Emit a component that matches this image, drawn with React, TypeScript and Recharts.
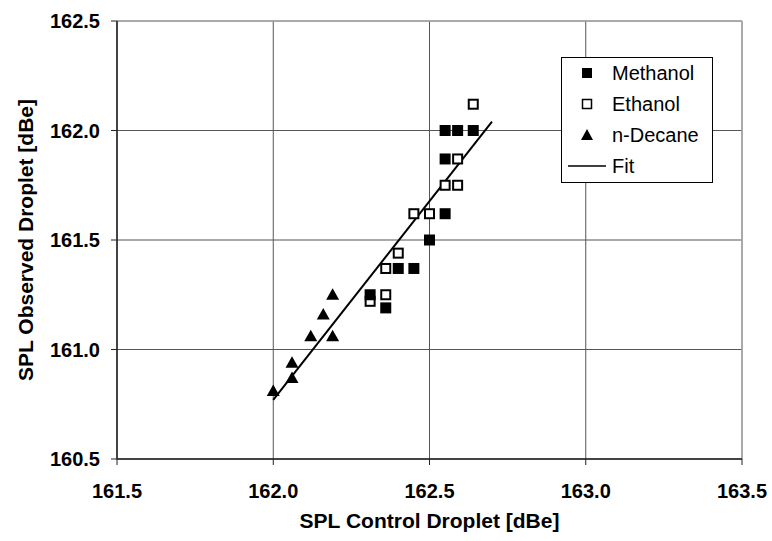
import React from 'react';
import {
  ScatterChart,
  Scatter,
  XAxis,
  YAxis,
  CartesianGrid,
  ReferenceLine,
  Legend,
} from 'recharts';

const xTicks = [161.5, 162.0, 162.5, 163.0, 163.5];
const yTicks = [160.5, 161.0, 161.5, 162.0, 162.5];

const methanolX = [162.31, 162.36, 162.40, 162.45, 162.50, 162.55, 162.55, 162.55, 162.59, 162.64];
const methanolY = [161.25, 161.19, 161.37, 161.37, 161.50, 161.62, 161.87, 162.00, 162.00, 162.00];

const ethanolX = [162.31, 162.36, 162.36, 162.40, 162.45, 162.50, 162.55, 162.59, 162.59, 162.64];
const ethanolY = [161.22, 161.25, 161.37, 161.44, 161.62, 161.62, 161.75, 161.75, 161.87, 162.12];

const decaneX = [162.00, 162.06, 162.06, 162.12, 162.19, 162.16, 162.19];
const decaneY = [160.81, 160.87, 160.94, 161.06, 161.06, 161.16, 161.25];

const fitX = [162.0, 162.7];
const fitY = [160.77, 162.04];

const seriesNames = ['Methanol', 'Ethanol', 'n-Decane', 'Fit'];

const zip = (xs: number[], ys: number[]) => xs.map((x, i) => ({ x, y: ys[i] }));

const methanolData = zip(methanolX, methanolY);
const ethanolData = zip(ethanolX, ethanolY);
const decaneData = zip(decaneX, decaneY);
const fitData = zip(fitX, fitY);

const FONT = '"Liberation Sans", Arial, Helvetica, sans-serif';

const FilledSquare = (p: any) => (
  <rect x={p.cx - 5.5} y={p.cy - 5.5} width={11} height={11} fill="#000" />
);
const OpenSquare = (p: any) => (
  <rect x={p.cx - 4.5} y={p.cy - 4.5} width={9} height={9} fill="#fff" stroke="#000" strokeWidth={2} />
);
const Triangle = (p: any) => (
  <polygon
    points={`${p.cx},${p.cy - 6.5} ${p.cx + 6.5},${p.cy + 5} ${p.cx - 6.5},${p.cy + 5}`}
    fill="#000"
  />
);
const NoDot = () => <g />;

const fmt = (v: number) => v.toFixed(1);

const renderLegend = () => {
  const rows = [16, 47, 78, 109];
  return (
    <svg width={152} height={126} style={{ display: 'block' }}>
      <rect x={0.5} y={0.5} width={151} height={125} fill="#fff" stroke="#000" strokeWidth={1} />
      <rect x={21} y={rows[0] - 5} width={10} height={10} fill="#000" />
      <rect x={21.5} y={rows[1] - 4.5} width={9} height={9} fill="#fff" stroke="#000" strokeWidth={1.5} />
      <polygon points={`26,${rows[2] - 6} 32,${rows[2] + 5} 20,${rows[2] + 5}`} fill="#000" />
      <line x1={7} y1={rows[3]} x2={45} y2={rows[3]} stroke="#000" strokeWidth={1.5} />
      {seriesNames.map((n, i) => (
        <text
          key={n}
          x={51}
          y={rows[i] + 7}
          fontFamily={FONT}
          fontSize={20}
          fill="#000"
        >
          {n}
        </text>
      ))}
    </svg>
  );
};

const XTitle = (props: any) => {
  const vb = props.viewBox;
  return (
    <text
      x={vb.x + vb.width / 2}
      y={vb.y + vb.height - 13}
      textAnchor="middle"
      fontFamily={FONT}
      fontWeight="bold"
      fontSize={21}
      fill="#000"
    >
      SPL Control Droplet [dBe]
    </text>
  );
};

const YTitle = (props: any) => {
  const vb = props.viewBox;
  const x = vb.x + 33;
  const y = vb.y + vb.height / 2;
  return (
    <text
      x={x}
      y={y}
      transform={`rotate(-90 ${x} ${y})`}
      textAnchor="middle"
      fontFamily={FONT}
      fontWeight="bold"
      fontSize={21}
      fill="#000"
    >
      SPL Observed Droplet [dBe]
    </text>
  );
};

export default function App() {
  return (
    <div style={{ position: 'absolute', left: 0, top: 0, background: '#fff' }}>
      <ScatterChart
        width={772}
        height={541}
        margin={{ top: 21, right: 30, bottom: 0, left: 0 }}
      >
        <CartesianGrid stroke="#555" strokeWidth={1} />
        <XAxis
          type="number"
          dataKey="x"
          domain={[161.5, 163.5]}
          ticks={xTicks}
          tickFormatter={fmt}
          height={82}
          tickSize={6}
          tickMargin={19}
          axisLine={{ stroke: '#222', strokeWidth: 1.5 }}
          tickLine={{ stroke: '#222' }}
          tick={{ fill: '#000', fontFamily: FONT, fontWeight: 'bold', fontSize: 20 }}
          allowDataOverflow
          label={<XTitle />}
        />
        <YAxis
          type="number"
          dataKey="y"
          domain={[160.5, 162.5]}
          ticks={yTicks}
          tickFormatter={fmt}
          width={117}
          tickSize={6}
          tickMargin={11}
          axisLine={{ stroke: '#222', strokeWidth: 1.5 }}
          tickLine={{ stroke: '#222' }}
          tick={{ fill: '#000', fontFamily: FONT, fontWeight: 'bold', fontSize: 20 }}
          allowDataOverflow
          label={<YTitle />}
        />
        <ReferenceLine y={162.5} stroke="#aaa" strokeWidth={1.5} />
        <ReferenceLine x={163.5} stroke="#aaa" strokeWidth={1.5} />
        <Scatter
          name="Fit"
          data={fitData}
          line={{ stroke: '#000', strokeWidth: 2 }}
          lineType="joint"
          shape={NoDot}
          isAnimationActive={false}
        />
        <Scatter name="n-Decane" data={decaneData} shape={Triangle} isAnimationActive={false} />
        <Scatter name="Ethanol" data={ethanolData} shape={OpenSquare} isAnimationActive={false} />
        <Scatter name="Methanol" data={methanolData} shape={FilledSquare} isAnimationActive={false} />
        <Legend
          layout="vertical"
          align="center"
          verticalAlign="middle"
          wrapperStyle={{ left: 561, top: 57, width: 152, height: 126 }}
          content={renderLegend}
        />
      </ScatterChart>
    </div>
  );
}
